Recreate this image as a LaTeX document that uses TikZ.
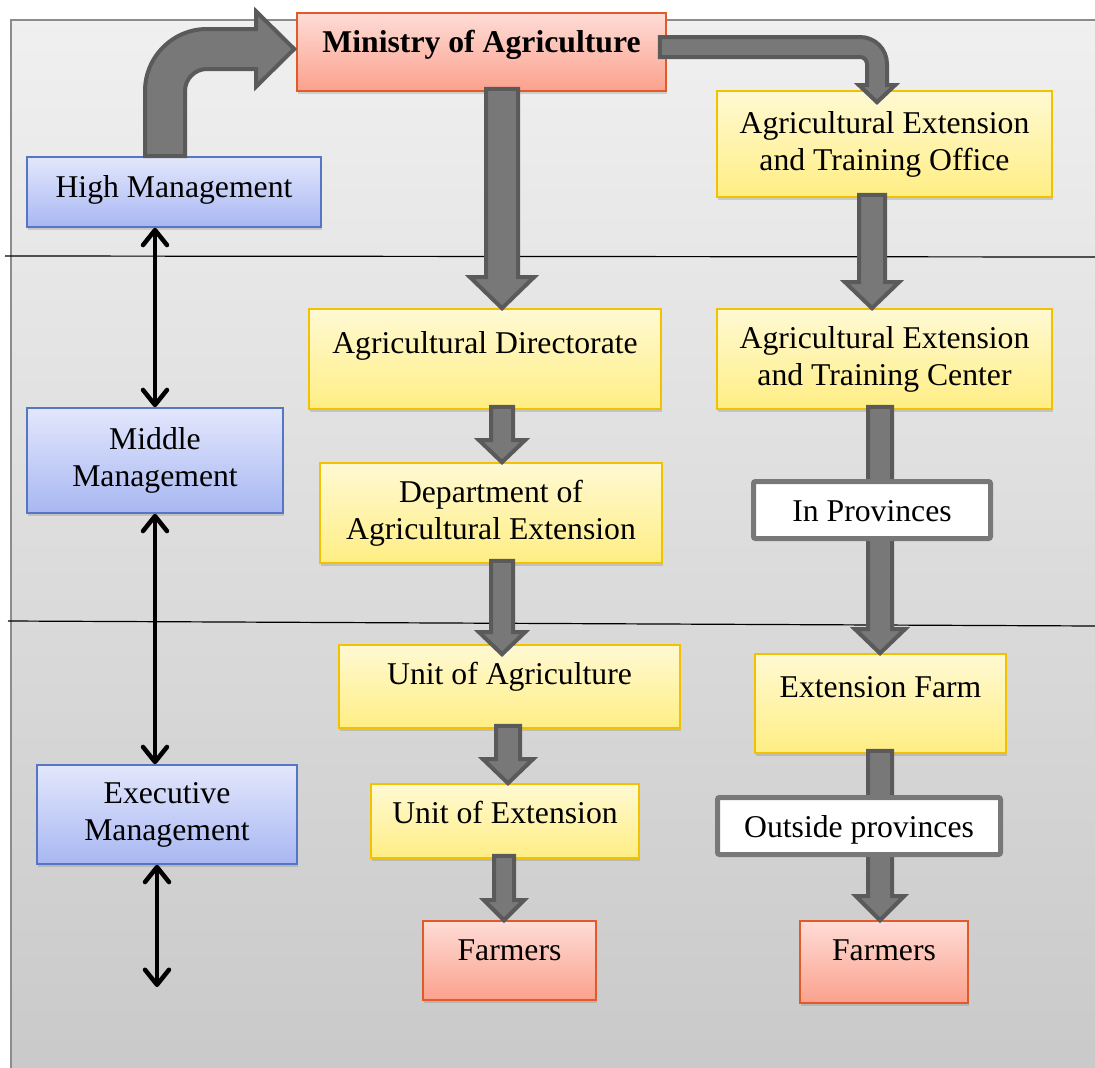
\documentclass[tikz,border=0pt]{standalone}
\usepackage{fontspec}
\setmainfont{Liberation Serif}
\usepackage{tikz}
\usetikzlibrary{arrows.meta, calc, shadows}
\usepackage{xcolor}
\definecolor{ylwtop}{HTML}{FFF9D3}
\definecolor{ylwbot}{HTML}{FFEE84}
\definecolor{goldline}{HTML}{F2C100}
\definecolor{redtop}{HTML}{FEDCD6}
\definecolor{redbot}{HTML}{FBA18D}
\definecolor{redline}{HTML}{E05A2A}
\definecolor{bluetop}{HTML}{E3E7FC}
\definecolor{bluebot}{HTML}{A8B7F2}
\definecolor{blueline}{HTML}{5576C4}
\definecolor{arrowgray}{HTML}{787878}
\definecolor{arrowline}{HTML}{5A5A5A}

\newcommand\blockdown[6]{%
  \draw[blockarrow] let \p1=(#1), \p2=(#2) in
    ({#3pt-#4pt},{\y1+3pt}) -- ({#3pt-#4pt},{\y2+#6pt}) -- ({#3pt-#5pt},{\y2+#6pt})
    -- (#3pt,\y2) -- ({#3pt+#5pt},{\y2+#6pt}) -- ({#3pt+#4pt},{\y2+#6pt})
    -- ({#3pt+#4pt},{\y1+3pt}) -- cycle;}

\begin{document}
\begin{tikzpicture}[x=1pt, y=-1pt, font=\fontsize{31.7}{37}\selectfont,
  >={Straight Barb[length=15pt,width=24pt,round]},
  box/.style={draw, line width=1.6pt, inner sep=0pt, align=center,
    drop shadow={shadow xshift=1pt, shadow yshift=-3pt, opacity=0.3}},
  yellowbox/.style={box, draw=goldline, top color=ylwtop, bottom color=ylwbot},
  redbox/.style={box, draw=redline, top color=redtop, bottom color=redbot},
  bluebox/.style={box, draw=blueline, top color=bluetop, bottom color=bluebot},
  whitebox/.style={draw=arrowgray, fill=white, line width=5pt, rounded corners=2pt,
    inner sep=0pt, text height=22pt, text depth=0pt},
  lift/.style={text height=22pt, text depth=#1},
  blockarrow/.style={draw=arrowline, fill=arrowgray, line width=4pt},
  dblarrow/.style={<->, line width=4.5pt}]
  \useasboundingbox (0,0) rectangle (1095,1068);
  \shade[top color=black!6, bottom color=black!21] (11,20) rectangle (1095,1068);
  \draw[black!45, line width=1.5pt] (11,1068) -- (11,20) -- (1095,20);
  \draw[line width=1.2pt] (5,256) -- (1095,257);
  \draw[line width=1.2pt] (8,621) -- (1095,626);

  \node[redbox, minimum width=369pt, minimum height=78pt, lift=22pt,
    font=\fontsize{31.7}{37}\selectfont\bfseries] (min) at (481.5,52) {Ministry of Agriculture};
  \node[bluebox, minimum width=294pt, minimum height=70pt, lift=12pt] (hm) at (174,192) {High Management};
  \node[bluebox, minimum width=256pt, minimum height=105pt] (mm) at (155,460.5) {Middle\\Management};
  \node[bluebox, minimum width=260pt, minimum height=99pt] (em) at (167,814.5) {Executive\\Management};
  \node[yellowbox, minimum width=335pt, minimum height=106pt] (off) at (884.5,144) {Agricultural Extension\\and Training Office};
  \node[yellowbox, minimum width=352pt, minimum height=100pt, lift=34pt] (dir) at (485,359) {Agricultural Directorate};
  \node[yellowbox, minimum width=335pt, minimum height=100pt] (ctr) at (884.5,359) {Agricultural Extension\\and Training Center};
  \node[yellowbox, minimum width=342pt, minimum height=100pt] (dept) at (491,513) {Department of\\Agricultural Extension};
  \node[yellowbox, minimum width=341pt, minimum height=83pt, lift=27pt] (ua) at (509.5,686.5) {Unit of Agriculture};
  \node[yellowbox, minimum width=268pt, minimum height=74pt, lift=18pt] (ue) at (505,821) {Unit of Extension};
  \node[redbox, minimum width=173pt, minimum height=79pt, lift=23pt] (fl) at (509.5,960.5) {Farmers};
  \node[yellowbox, minimum width=251pt, minimum height=99pt, lift=35pt] (ef) at (880.5,703.5) {Extension Farm};
  \node[redbox, minimum width=168pt, minimum height=82pt, lift=26pt] (fr) at (884,962) {Farmers};

  \draw[blockarrow] let \p1=(hm.north), \p2=(min.west) in
    ({\x1-29pt},\y1) -- ({\x1-29pt},{\y2-39pt})
    arc[start angle=180, end angle=90, radius=62pt]
    -- ({\x2-40pt},{\y2+23pt}) -- ({\x2-40pt},{\y2+40.5pt}) -- ({\x2-2pt},{\y2+3pt})
    -- ({\x2-40pt},{\y2-34.5pt}) -- ({\x2-40pt},{\y2-17pt})
    -- ({\x1+33pt},{\y2-17pt}) arc[start angle=90, end angle=180, radius=22pt]
    -- ({\x1+11pt},\y1) -- cycle;
  \draw[blockarrow] let \p1=(min.east), \p2=(off.north) in
    ({\x1-7pt},{\y1+15pt}) -- ({\x2-24.5pt},{\y1+15pt})
    arc[start angle=90, end angle=0, radius=27pt]
    -- ({\x2+2.5pt},{\y2+5pt}) -- ({\x2+10.5pt},{\y2+5pt}) -- ({\x2-7.5pt},{\y2-12pt})
    -- ({\x2-25.5pt},{\y2+5pt}) -- ({\x2-17.5pt},{\y2+5pt})
    -- ({\x2-17.5pt},{\y1-12pt}) arc[start angle=0, end angle=90, radius=7pt]
    -- ({\x1-7pt},{\y1-5pt}) -- cycle;
  \blockdown{min.south}{dir.north}{502}{16}{32}{31}
  \blockdown{dir.south}{dept.north}{502}{11}{23}{22}
  \blockdown{dept.south}{$(ua.north)+(0,10)$}{502}{11}{23}{22}
  \blockdown{ua.south}{ue.north}{508}{12}{25}{24}
  \blockdown{ue.south}{fl.north}{504}{10}{20}{20}
  \blockdown{off.south}{ctr.north}{872}{13}{27}{26}
  \blockdown{ctr.south}{ef.north}{880}{12}{25}{24}
  \blockdown{ef.south}{fr.north}{880}{12}{24}{24}

  \node[whitebox, minimum width=237pt, minimum height=57pt] (inp) at (872,510) {In Provinces};
  \node[whitebox, minimum width=283pt, minimum height=57pt] (out) at (859,826) {Outside provinces};

  \coordinate (low) at (157,987);
  \draw[dblarrow] (hm.south -| mm.north) -- (mm.north);
  \draw[dblarrow] (mm.south) -- (em.north -| mm.south);
  \draw[dblarrow] (em.south -| low) -- (low);
\end{tikzpicture}
\end{document}
